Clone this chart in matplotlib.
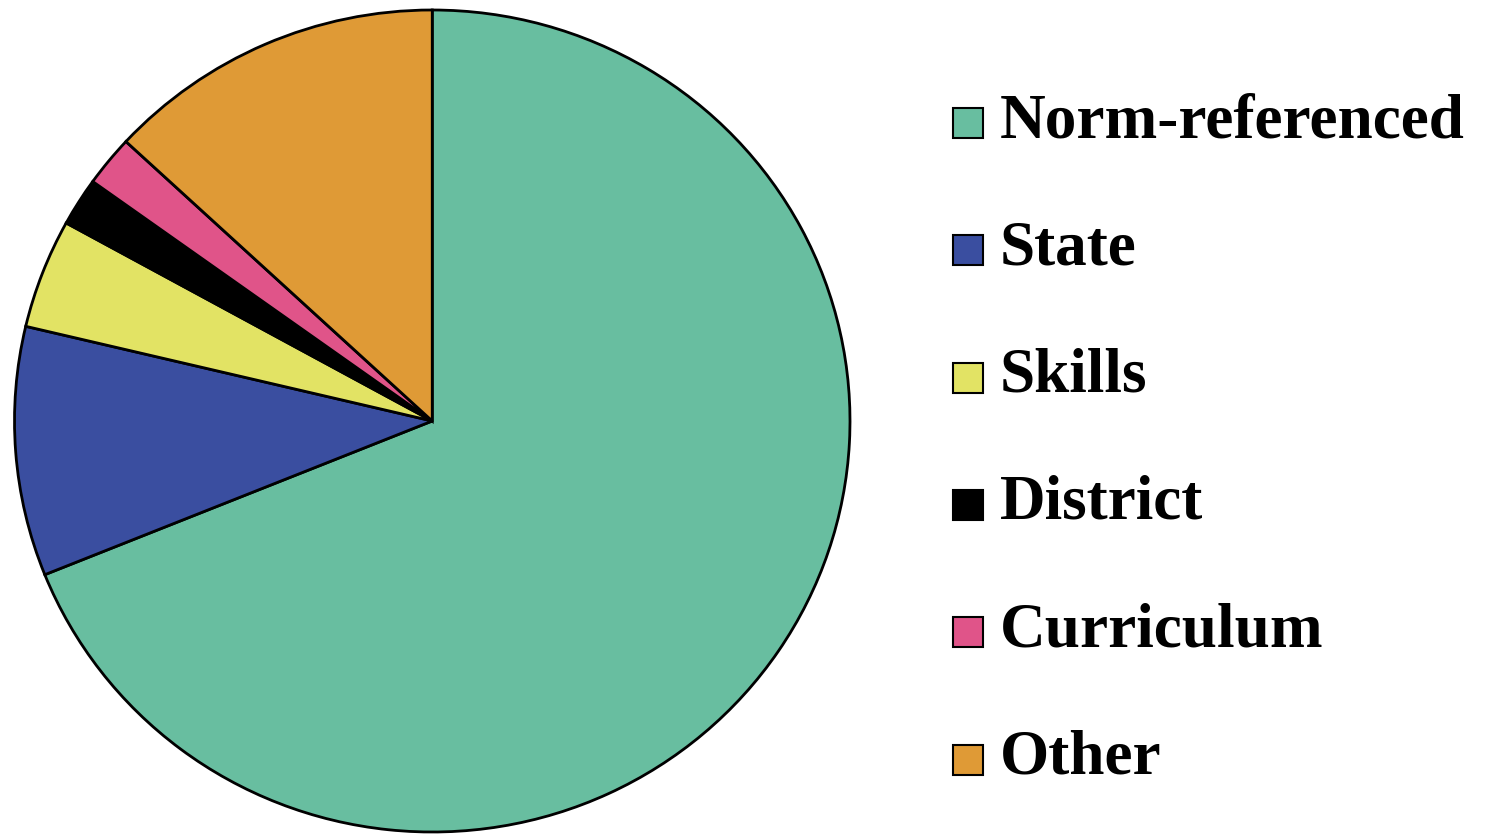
import matplotlib.pyplot as plt
from matplotlib.patches import Rectangle

# ==================== DATA ====================

labels = ['Norm-referenced', 'State', 'Skills', 'District', 'Curriculum', 'Other']
values = [68.9, 9.8, 4.3, 1.9, 2.0, 13.1]
colors = ['#68BEA0', '#3A4EA0', '#E2E364', '#000000', '#E05489', '#DF9A36']

# ==================== FIGURE ====================

fig = plt.figure(figsize=(14.88, 8.35), dpi=100)
W, H = 1488, 835

# pie box in pixels (left, top, right, bottom)
left, top, right, bottom = 14.5, 10, 850, 832
ax = fig.add_axes([left / W, (H - bottom) / H, (right - left) / W, (bottom - top) / H])

wedges, _ = ax.pie(values, colors=colors, startangle=90, counterclock=False,
                   wedgeprops=dict(edgecolor='black', linewidth=2))
ax.set_xlim(-1, 1)
ax.set_ylim(-1, 1)
ax.set_aspect('auto')
ax.axis('off')

for w in wedges:
    w.set_clip_on(False)

# ==================== LEGEND (drawn by hand for exact placement) ====================

key_x, key_size = 953, 30
text_x = 1000
first_base = 137     # baseline of first label, px from top
row_step = 127.3

for i, w in enumerate(wedges):
    base = first_base + i * row_step
    fig.patches.append(Rectangle(
        (key_x / W, (H - base - 1) / H), key_size / W, key_size / H,
        transform=fig.transFigure, facecolor=w.get_facecolor(),
        edgecolor='black', linewidth=1.5))
    fig.text(text_x / W, (H - base) / H, labels[i], va='baseline', ha='left',
             family='Liberation Serif', weight='bold', size=45.5)

fig.savefig('out.png', dpi=100)
